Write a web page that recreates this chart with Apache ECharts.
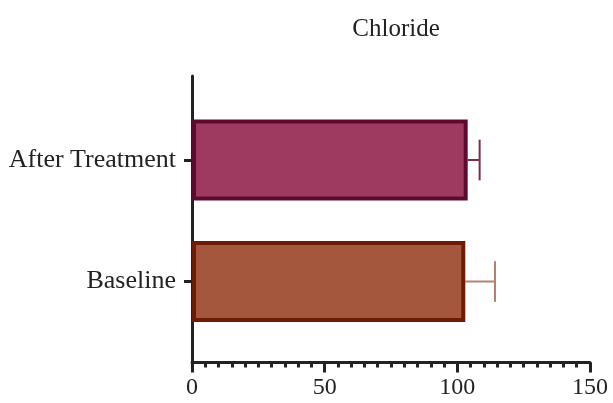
<!DOCTYPE html>
<html>
<head>
<meta charset="utf-8">
<script src="https://cdn.jsdelivr.net/npm/echarts@6/dist/echarts.min.js"></script>
<style>html,body{margin:0;padding:0;background:#fff}#c{width:613px;height:403px}</style>
</head>
<body>
<div id="c"></div>
<script>
const title = 'Chloride';
const categories = ['Baseline', 'After Treatment'];
const means = [103.0, 103.9];
const sds = [11.2, 4.5];
const fillColors = ['#a4573c', '#9e3a5f'];
const borderColors = ['#6e1a04', '#5e0a30'];
const errColors = ['#b5806e', '#7c2d4d'];
const xTicks = [0, 50, 100, 150];

const FONT = '"Liberation Serif", "Times New Roman", serif';
const AX = '#222222';
const chart = echarts.init(document.getElementById('c'), null, {renderer: 'canvas'});
chart.setOption({
  animation: false,
  backgroundColor: '#ffffff',
  title: {
    text: title, left: 391, top: 12, textAlign: 'center',
    textStyle: {fontFamily: FONT, fontSize: 25, fontWeight: 'normal', color: '#222'}
  },
  grid: [
    {left: 192, right: 23, top: 99.25, bottom: 60.75},
    {left: 192, right: 23, top: 76, bottom: 40.5}
  ],
  xAxis: [
    {gridIndex: 0, type: 'value', min: xTicks[0], max: xTicks[xTicks.length - 1], show: false},
    {
      gridIndex: 1, type: 'value', min: xTicks[0], max: xTicks[xTicks.length - 1], interval: 50,
      axisLine: {show: true, lineStyle: {color: AX, width: 3}},
      axisTick: {show: true, length: 10, lineStyle: {color: AX, width: 3}},
      minorTick: {show: true, splitNumber: 10, length: 5, lineStyle: {color: AX, width: 3}},
      splitLine: {show: false},
      axisLabel: {fontFamily: FONT, fontSize: 24, color: '#222', margin: 13}
    }
  ],
  yAxis: [
    {
      gridIndex: 0, type: 'category', data: categories,
      axisLine: {show: false},
      axisTick: {show: true, alignWithLabel: true, length: 8, lineStyle: {color: AX, width: 3}},
      axisLabel: {fontFamily: FONT, fontSize: 26, color: '#222', margin: 16}
    },
    {
      gridIndex: 1, type: 'value', min: 0, max: 1,
      axisLine: {show: true, lineStyle: {color: AX, width: 3}},
      axisTick: {show: false}, axisLabel: {show: false}, splitLine: {show: false}
    }
  ],
  series: [
    {
      type: 'bar', xAxisIndex: 0, yAxisIndex: 0, barWidth: 81,
      data: means.map((v, i) => ({
        value: v,
        itemStyle: {color: fillColors[i], borderColor: borderColors[i], borderWidth: 4}
      }))
    },
    {
      type: 'custom', xAxisIndex: 0, yAxisIndex: 0, z: 1,
      data: means.map((v, i) => [i, v, v + sds[i]]),
      encode: {y: 0, x: [1, 2]},
      renderItem: function (params, api) {
        const i = api.value(0);
        const p0 = api.coord([api.value(1), i]);
        const p1 = api.coord([api.value(2), i]);
        const h = api.size([0, 1])[1] * 0.335;
        const col = errColors[i];
        return {
          type: 'group',
          children: [
            {type: 'line', shape: {x1: p0[0], y1: p0[1], x2: p1[0], y2: p1[1]}, style: {stroke: col, lineWidth: 2}},
            {type: 'line', shape: {x1: p1[0], y1: p1[1] - h / 2, x2: p1[0], y2: p1[1] + h / 2}, style: {stroke: col, lineWidth: 2}}
          ]
        };
      }
    }
  ]
});
</script>
</body>
</html>
